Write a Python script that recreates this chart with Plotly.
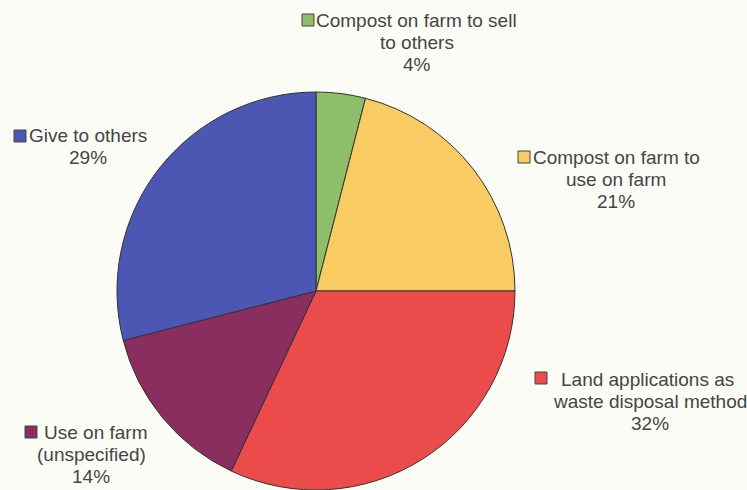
import plotly.graph_objects as go

# Farm compost / manure use shares
categories = [
    "Compost on farm to sell to others",
    "Compost on farm to use on farm",
    "Land applications as waste disposal method",
    "Use on farm (unspecified)",
    "Give to others",
]
values = [4, 21, 32, 14, 29]
label_lines = [
    ["Compost on farm to sell", "to others"],
    ["Compost on farm to", "use on farm"],
    ["Land applications as", "waste disposal method"],
    ["Use on farm", "(unspecified)"],
    ["Give to others"],
]
colors = ["#8cbf68", "#f8cc62", "#ec4b4b", "#8a2e5f", "#4c56b3"]

W, H = 747, 490
LINE_GAP = 22.4
FONT = dict(family="Liberation Sans, Arial, sans-serif", size=19, color="#454545")

# per-label: x centre of each text line, y of the first line, key centre (pixels)
line_x = [
    [417, 417, 417],
    [616, 616, 616],
    [647, 650, 650],
    [95, 91, 91],
    [88, 88],
]
first_y = [20, 157, 379, 432, 135]
key_pos = [(308, 20), (524, 157), (541, 378), (31, 432), (20, 136)]
KEY = 12


def px(x):
    return x / W


def py(y):
    return 1 - y / H


fig = go.Figure(
    go.Pie(
        labels=categories,
        values=values,
        sort=False,
        direction="clockwise",
        rotation=0,
        marker=dict(colors=colors, line=dict(color="#333333", width=1)),
        textinfo="none",
        hoverinfo="label+percent",
        showlegend=False,
        domain=dict(x=[117 / W, 515 / W], y=[0, 398 / H]),
    )
)

annotations = []
shapes = []
for lines, val, col, xs, y0, (kx, ky) in zip(label_lines, values, colors, line_x, first_y, key_pos):
    for i, (txt, lx) in enumerate(zip(lines + [f"{val}%"], xs)):
        annotations.append(
            dict(
                x=px(lx), y=py(y0 + i * LINE_GAP), xref="paper", yref="paper",
                xanchor="center", yanchor="middle",
                text=txt, showarrow=False, font=FONT,
            )
        )
    shapes.append(
        dict(
            type="rect", xref="paper", yref="paper",
            x0=px(kx - KEY / 2), x1=px(kx + KEY / 2),
            y0=py(ky + KEY / 2), y1=py(ky - KEY / 2),
            fillcolor=col, line=dict(color="#444444", width=1),
        )
    )

fig.update_layout(
    width=W, height=H,
    margin=dict(l=0, r=0, t=0, b=0),
    paper_bgcolor="#fcfcf6",
    plot_bgcolor="#fcfcf6",
    annotations=annotations,
    shapes=shapes,
)

fig.write_html("out.html")
